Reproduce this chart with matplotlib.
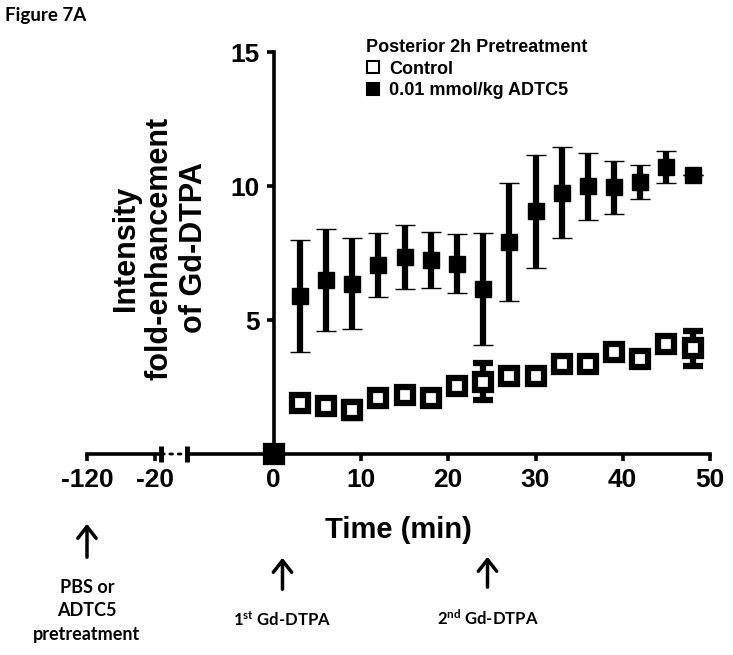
import numpy as np
import matplotlib
matplotlib.use("Agg")
import matplotlib.pyplot as plt
from matplotlib.lines import Line2D
from matplotlib.patches import ConnectionPatch

# data
time_min = [0, 3, 6, 9, 12, 15, 18, 21, 24, 27, 30, 33, 36, 39, 42, 45, 48]
adtc5_mean = [0, 5.9, 6.5, 6.35, 7.05, 7.35, 7.25, 7.1, 6.15, 7.9, 9.05, 9.75, 10.0, 9.95, 10.15, 10.7, 10.4]
adtc5_sem = [0, 2.1, 1.9, 1.7, 1.2, 1.2, 1.05, 1.1, 2.1, 2.2, 2.1, 1.7, 1.25, 1.0, 0.65, 0.6, 0]
control_mean = [0, 1.9, 1.8, 1.65, 2.1, 2.2, 2.1, 2.55, 2.7, 2.9, 2.9, 3.35, 3.35, 3.8, 3.55, 4.1, 3.95]
control_sem = [0, 0.2, 0.15, 0.3, 0.1, 0.1, 0.1, 0.15, 0.7, 0.15, 0.15, 0.1, 0.1, 0.15, 0.1, 0.15, 0.65]

main_ticks = [0, 10, 20, 30, 40, 50]
pre_ticks = [-120, -20]
y_ticks = [5, 10, 15]

plt.rcParams['font.family'] = ['Liberation Sans', 'DejaVu Sans']
plt.rcParams['font.weight'] = 'bold'
plt.rcParams['axes.unicode_minus'] = False
plt.rcParams['mathtext.fontset'] = 'custom'
plt.rcParams['mathtext.rm'] = 'Lato:bold'
plt.rcParams['mathtext.it'] = 'Lato:bold'
plt.rcParams['mathtext.bf'] = 'Lato:bold'

W, H = 733, 655
fig = plt.figure(figsize=(W / 100, H / 100), dpi=100)

def fx(px): return px / W
def fy(py): return 1 - py / H

lw_ax = 2.6
ax = fig.add_axes([fx(186.5), fy(454), fx(710) - fx(186.5), fy(52) - fy(454)])
ax.set_xlim(-10, 50)
ax.set_ylim(0, 15)
ax.patch.set_alpha(0)
for s in ['top', 'right']:
    ax.spines[s].set_visible(False)
ax.spines['left'].set_position(('data', 0))
ax.spines['left'].set_linewidth(lw_ax)
ax.spines['bottom'].set_linewidth(lw_ax)
ax.set_xticks(main_ticks)
ax.set_yticks(y_ticks)
ax.tick_params(direction='out', length=5, width=lw_ax, labelsize=19, pad=5)

eb = dict(fmt='s', ecolor='black', elinewidth=4.5, capsize=7, capthick=4.5, clip_on=False)
ax.errorbar(time_min, control_mean, yerr=control_sem, ms=11.5, mfc='white', mec='black', mew=4.5, zorder=3, **eb)
ax.errorbar(time_min, adtc5_mean, yerr=adtc5_sem, ms=11.5, mfc='black', mec='black', mew=1, zorder=4, **eb)

ax.set_xlabel('Time (min)', fontsize=21, fontweight='bold')
ax.xaxis.set_label_coords(0.404, -0.155)

# break mark at left end of main axis
ax.plot([-10], [0], marker='|', ms=11, mew=3.5, color='black', clip_on=False)

# pretreatment part of the axis
ax2 = fig.add_axes([fx(87), fy(454), fx(161.5) - fx(87), 0.001])
ax2.set_xlim(-120, -10)
ax2.set_ylim(0, 1)
ax2.patch.set_alpha(0)
for s in ['top', 'right', 'left']:
    ax2.spines[s].set_visible(False)
ax2.spines['bottom'].set_linewidth(lw_ax)
ax2.set_yticks([])
ax2.set_xticks(pre_ticks)
ax2.tick_params(direction='out', length=5, width=lw_ax, labelsize=19, pad=5)
ax2.plot([-10], [0], marker='|', ms=11, mew=3.5, color='black', clip_on=False)

con = ConnectionPatch(xyA=(-10, 0), coordsA=ax2.transData, xyB=(-10, 0), coordsB=ax.transData,
                      linestyle=(0, (1, 2)), lw=2, color='black')
fig.add_artist(con)

fig.text(fx(160), fy(248), 'Intensity\nfold-enhancement\nof Gd-DTPA', rotation=90,
         ha='center', va='center', multialignment='center', fontsize=22, linespacing=1.18)

handles = [Line2D([], [], marker='s', ls='none', mfc='white', mec='black', mew=1.5, ms=9),
           Line2D([], [], marker='s', ls='none', mfc='black', mec='black', mew=1.5, ms=9)]
leg = ax.legend(handles, ['Control', '0.01 mmol/kg ADTC5'], title='Posterior 2h Pretreatment',
                loc='upper left', bbox_to_anchor=(fx(366), fy(39)), bbox_transform=fig.transFigure,
                frameon=False, fontsize=13, title_fontproperties={'size': 13, 'weight': 'bold'},
                alignment='left', handlelength=0.8, handletextpad=0.5, borderpad=0, borderaxespad=0,
                labelspacing=0.25)

fig.text(fx(5), fy(15), 'Figure 7A', family='Lato', fontweight='bold', fontsize=13.5, ha='left', va='center')

arrow = dict(arrowstyle='->, head_length=0.42, head_width=0.33', lw=2.5, color='black', mutation_scale=20)
ax2.annotate('', xy=(-120, fy(521)), xycoords=('data', 'figure fraction'),
             xytext=(-120, fy(560)), textcoords=('data', 'figure fraction'), arrowprops=arrow)
ax.annotate('', xy=(1, fy(555)), xycoords=('data', 'figure fraction'),
            xytext=(1, fy(592)), textcoords=('data', 'figure fraction'), arrowprops=arrow)
ax.annotate('', xy=(24.5, fy(554)), xycoords=('data', 'figure fraction'),
            xytext=(24.5, fy(590)), textcoords=('data', 'figure fraction'), arrowprops=arrow)

ax2.annotate('PBS or\nADTC5\npretreatment', xy=(-120, fy(611)), xycoords=('data', 'figure fraction'),
             ha='center', va='center', family='Lato', fontweight='bold', fontsize=13, linespacing=1.45,
             annotation_clip=False)
ax.annotate(r'1$^{\mathrm{st}}$ Gd-DTPA', xy=(1, fy(620)), xycoords=('data', 'figure fraction'),
            ha='center', va='center', family='Lato', fontweight='bold', fontsize=12, annotation_clip=False)
ax.annotate(r'2$^{\mathrm{nd}}$ Gd-DTPA', xy=(24.5, fy(618)), xycoords=('data', 'figure fraction'),
            ha='center', va='center', family='Lato', fontweight='bold', fontsize=12, annotation_clip=False)

fig.savefig('out.png', dpi=100)
